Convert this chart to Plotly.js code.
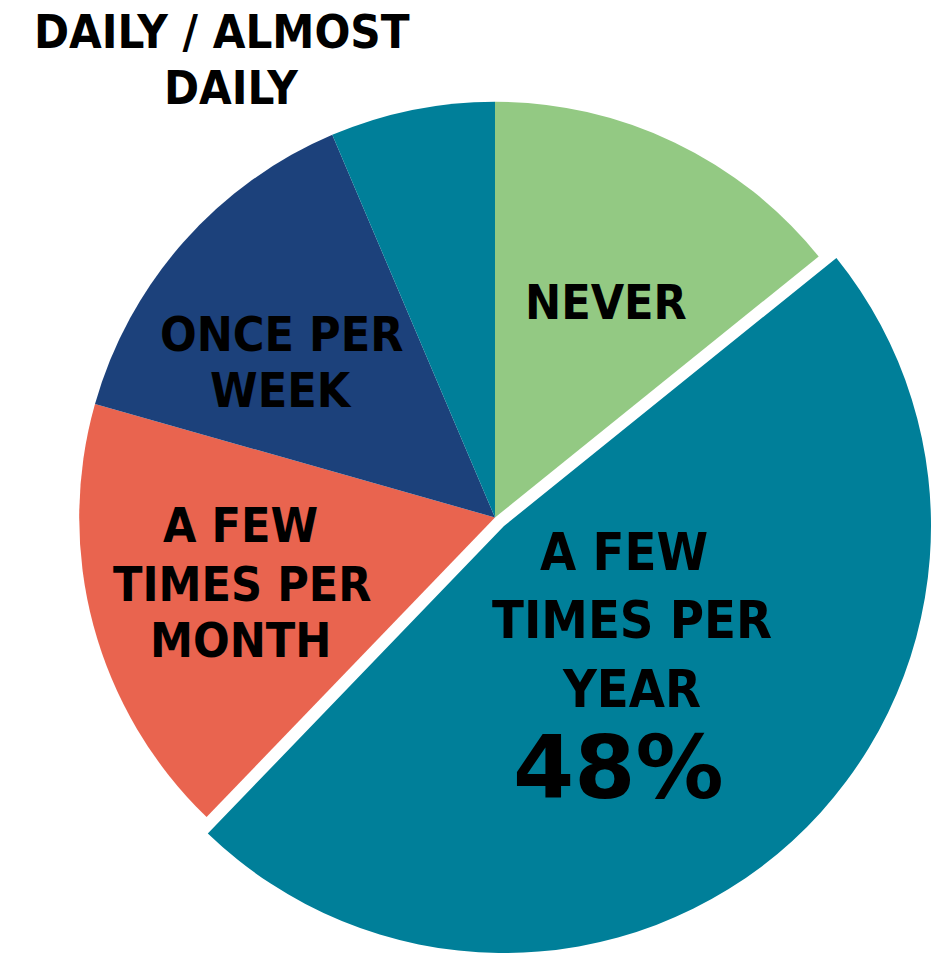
<!DOCTYPE html>
<html>
<head>
<meta charset="utf-8">
<script src="https://cdn.plot.ly/plotly-3.0.1.min.js"></script>
<style>html,body{margin:0;padding:0;background:#fff;}#chart{width:948px;height:953px;}</style>
</head>
<body>
<div id="chart"></div>
<script>
// ---- data ----
const categories = ['NEVER', 'A FEW TIMES PER YEAR', 'A FEW TIMES PER MONTH', 'ONCE PER WEEK', 'DAILY / ALMOST DAILY'];
const shares = [14.2, 48.0, 17.2, 14.2, 6.4];
const sliceColors = ['#93C983', '#007F99', '#E9644F', '#1C417B', '#007F99'];
const explodedIndex = 1;
const labelLines = [
  ['NEVER'],
  ['A FEW', 'TIMES PER', 'YEAR'],
  ['A FEW', 'TIMES PER', 'MONTH'],
  ['ONCE PER', 'WEEK'],
  ['DAILY / ALMOST', 'DAILY']
];
const highlightText = '48%';

// ---- layout helpers ----
const W = 948, H = 953;
const px = x => x / W;
const py = y => 1 - y / H;
function domainFor(cx, cy, r) {
  return {x: [px(cx - r), px(cx + r)], y: [Math.max(0, py(cy + r)), Math.min(1, py(cy - r))]};
}

const transparent = 'rgba(0,0,0,0)';
const baseColors = sliceColors.map((c, i) => i === explodedIndex ? transparent : c);
const explodedColors = sliceColors.map((c, i) => i === explodedIndex ? c : transparent);

const common = {
  type: 'pie', labels: categories, values: shares, sort: false,
  direction: 'clockwise', rotation: 0, textinfo: 'none', showlegend: false,
  hoverinfo: 'label+percent'
};

const traces = [
  Object.assign({}, common, {marker: {colors: baseColors, line: {width: 0}}, domain: domainFor(495, 517.5, 415.8)}),
  Object.assign({}, common, {marker: {colors: explodedColors, line: {width: 0}}, domain: domainFor(504, 526, 427)})
];

// label line positions (pixel centres)
const linePos = [
  [[606, 302]],
  [[624, 552], [632, 620], [631, 689]],
  [[240, 525], [242, 584], [240, 640]],
  [[281, 334], [281, 390]],
  [[222, 32], [231, 88]]
];
const lineSize = [48, 52, 48, 48, 47];

const annotations = [];
labelLines.forEach((lines, i) => {
  lines.forEach((t, j) => {
    annotations.push({
      text: t, xref: 'paper', yref: 'paper',
      x: px(linePos[i][j][0]), y: py(linePos[i][j][1]),
      xanchor: 'center', yanchor: 'middle', showarrow: false,
      font: {family: '"DejaVu Sans Condensed", "DejaVu Sans", sans-serif', size: lineSize[i], color: '#000', weight: 'bold'}
    });
  });
});
annotations.push({
  text: '<b>' + highlightText + '</b>', xref: 'paper', yref: 'paper',
  x: px(618), y: py(767), xanchor: 'center', yanchor: 'middle', showarrow: false,
  font: {family: '"DejaVu Sans", sans-serif', size: 88, color: '#000'}
});

Plotly.newPlot('chart', traces, {
  width: W, height: H,
  margin: {l: 0, r: 0, t: 0, b: 0, pad: 0},
  paper_bgcolor: '#fff',
  annotations: annotations
}, {displayModeBar: false, staticPlot: true});
</script>
</body>
</html>
